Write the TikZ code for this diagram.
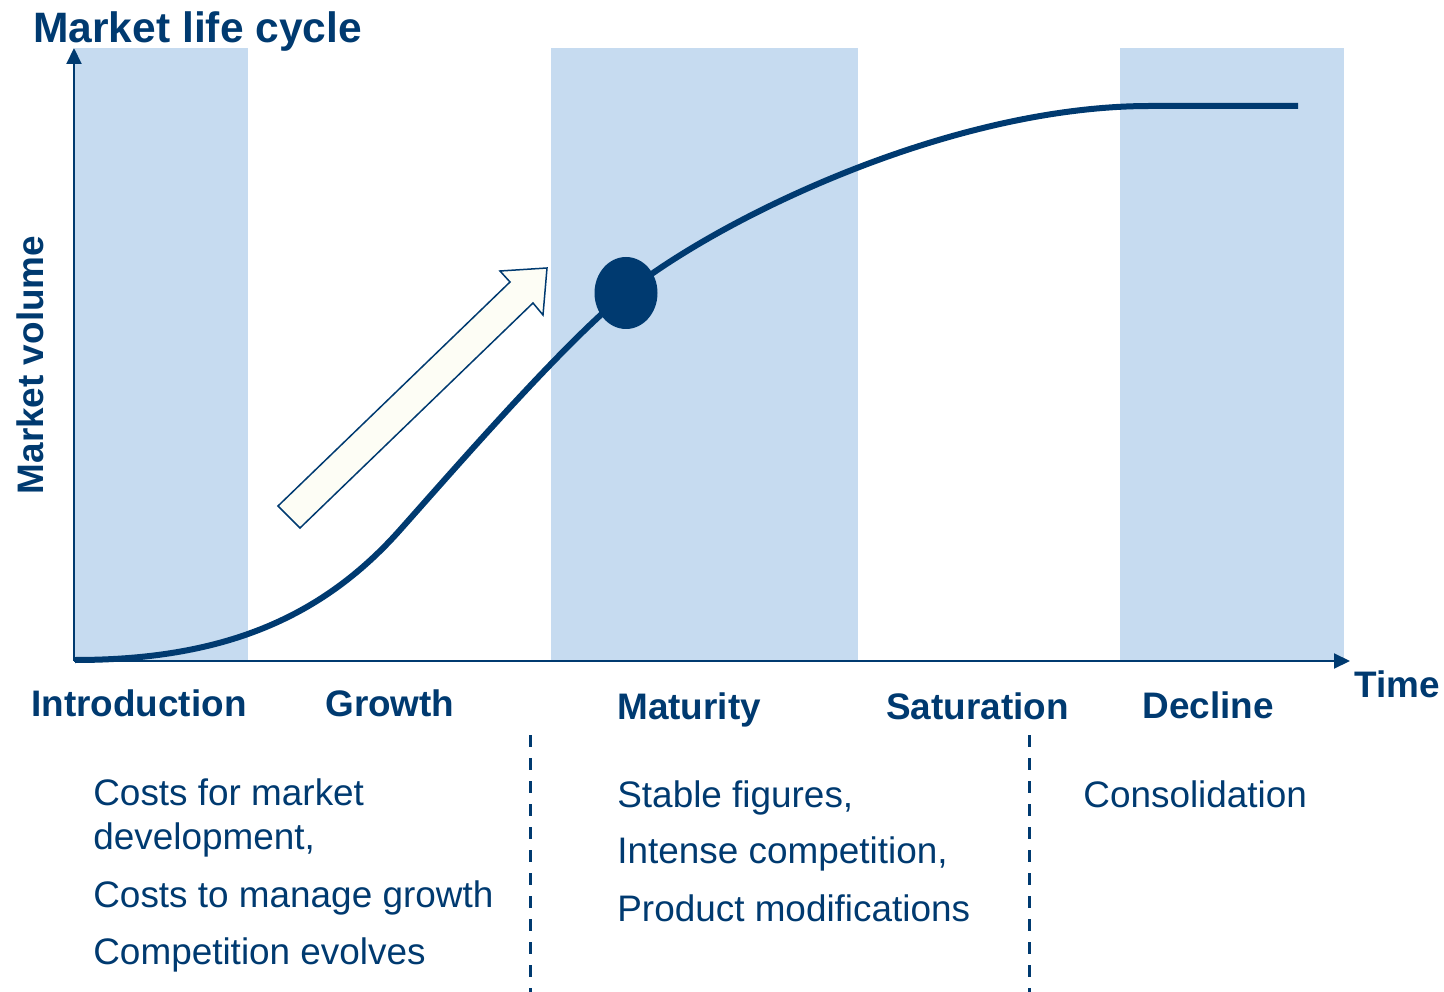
\documentclass[tikz,border=0pt]{standalone}
\usepackage{fontspec}
\setmainfont{Liberation Sans}
\usetikzlibrary{arrows.meta, positioning}

\definecolor{navy}{RGB}{0,58,112}
\definecolor{paleblue}{RGB}{198,219,240}
\definecolor{ivory}{RGB}{253,253,245}

\begin{document}
\begin{tikzpicture}[x=0.2mm, y=-0.2mm, font=\fontsize{21}{25}\selectfont, text=navy,
    band/.style={fill=paleblue, draw=none},
    axis/.style={navy, line width=0.4mm, -{Triangle[length=3.2mm, width=3mm]}},
    stage/.style={font=\fontsize{21}{25}\selectfont\bfseries, anchor=base west, inner sep=0pt},
    note/.style={anchor=base west, inner sep=0pt},
    divider/.style={navy, line width=0.6mm, dash pattern=on 2.4mm off 2.2mm}]
        \useasboundingbox (0,0) rectangle (1444,992);

        % Phase bands
        \fill[band] (75,48) rectangle (248,660);
        \fill[band] (551,48) rectangle (858,660);
        \fill[band] (1120,48) rectangle (1344,660);

        % Axes
        \coordinate (O) at (74,661);
        \coordinate (ytop) at (74,48);
        \coordinate (xend) at (1350,661);
        \draw[axis] (O) -- (ytop);
        \draw[axis] (O) -- (xend);
        \node[font=\fontsize{24.2}{29}\selectfont\bfseries, anchor=base west, inner sep=0pt] (title) at (33,43) {Market life cycle};
        \node[stage, anchor=base, rotate=90] (ylabel) at (43,365) {Market volume};
        \node[stage] (time) at (1354,697) {Time};

        % Growth arrow
        \draw[navy, line width=0.3mm, fill=ivory, line join=miter]
            (278,506) -- (510,282) -- (500,271) -- (547,268) -- (543,315) -- (533,303) -- (300,528) -- cycle;

        % Life cycle curve
        \coordinate (peak) at (626,293);
        \draw[navy, line width=1.2mm] (75,660) .. controls (220,660) and (320,620) .. (400,530)
            .. controls (460,462.5) and (566,341) .. (peak)
            .. controls (720,218) and (950,106) .. (1150,106) -- (1298,106);
        \fill[navy] (peak) ellipse (31.5 and 36);

        % Phases
        \node[stage] (intro) at (31,716) {Introduction};
        \node[stage] (growth) at (325,716) {Growth};
        \node[stage] (maturity) at (617,719) {Maturity};
        \node[stage] (saturation) at (886,719) {Saturation};
        \node[stage] (decline) at (1142,718) {Decline};

        % Dividers
        \coordinate (d1top) at (530,735);
        \coordinate (d1bot) at (530,992);
        \coordinate (d2top) at (1029,735);
        \coordinate (d2bot) at (1029,992);
        \draw[divider] (d1top) -- (d1bot);
        \draw[divider] (d2top) -- (d2bot);

        % Notes
        \node[note] (n1) at (93,805) {Costs for market};
        \node[note] (n2) at (93,849) {development,};
        \node[note] (n3) at (93,907) {Costs to manage growth};
        \node[note] (n4) at (93,964) {Competition evolves};
        \node[note] (m1) at (617,807) {Stable figures,};
        \node[note] (m2) at (617,863) {Intense competition,};
        \node[note] (m3) at (617,921) {Product modifications};
        \node[note] (c1) at (1083,807) {Consolidation};
\end{tikzpicture}
\end{document}
